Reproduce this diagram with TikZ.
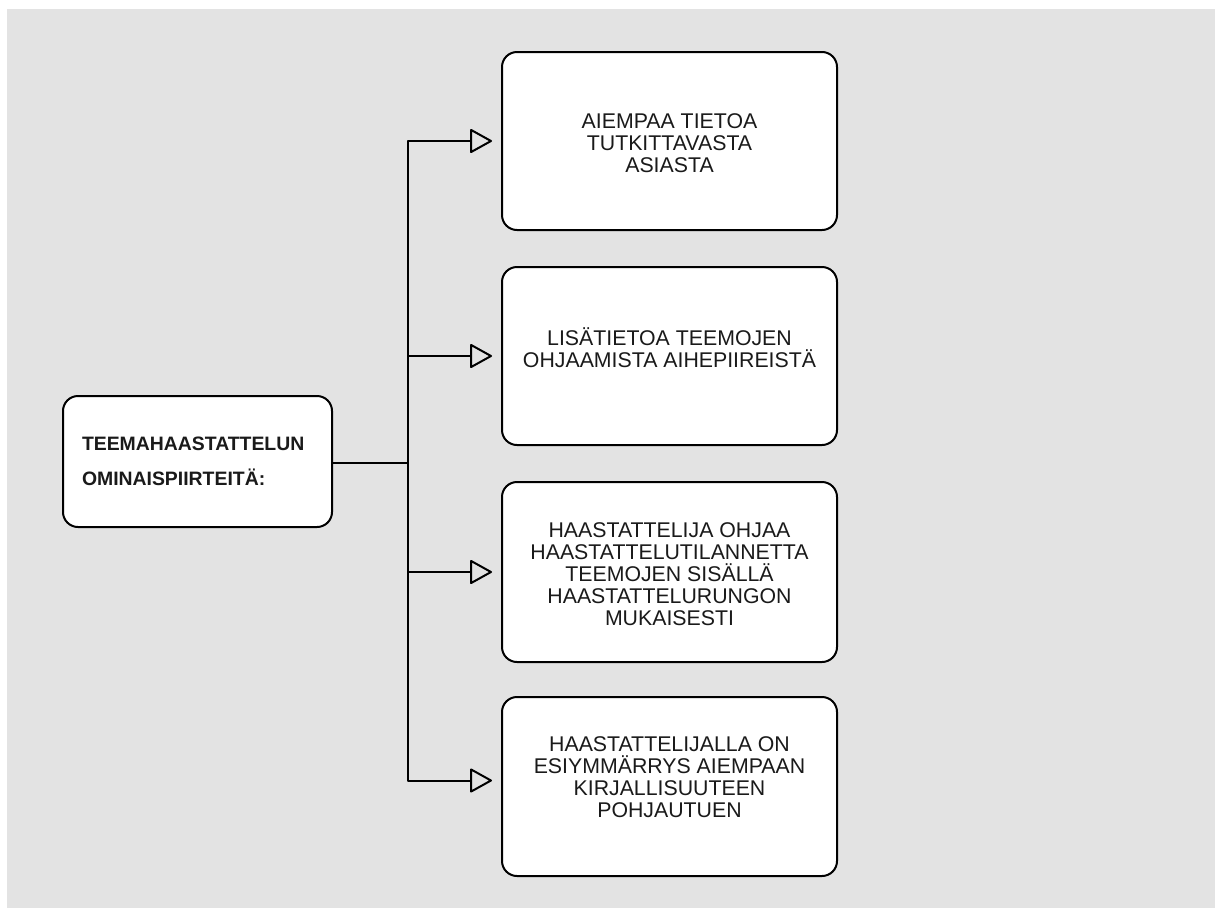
\documentclass[tikz,border=0pt]{standalone}
\usepackage{fontspec}
\setmainfont{Liberation Sans}
\usetikzlibrary{arrows.meta}
\definecolor{bggray}{HTML}{E3E3E3}
\definecolor{ink}{HTML}{1A1A1A}
\tikzset{
  card/.style={draw=black, line width=2pt, rounded corners=15pt, fill=white, inner sep=0pt},
  cardtext/.style={align=center, text=ink, font=\fontsize{21.3}{22}\selectfont, inner sep=0pt},
  conn/.style={draw=black, line width=2pt},
  branch/.style={conn, line join=round, -{Triangle[open, length=23pt, width=25pt, round]}, shorten >=9pt},
}
\begin{document}
\begin{tikzpicture}[x=1pt, y=-1pt]
  \useasboundingbox (0,0) rectangle (1215,908);
  \fill[white] (0,0) rectangle (1215,908);
  \fill[bggray] (7,9) rectangle (1215,908);

  % left box
  \node[card, minimum width=269pt, minimum height=131pt, text width=231pt, align=left,
        inner xsep=0pt, text=ink, font=\bfseries\fontsize{19.4}{35}\selectfont] (root) at (197.5,461.5)
        {TEEMAHAASTATTELUN\\OMINAISPIIRTEITÄ:};

  % right boxes
  \node[card, minimum width=335pt, minimum height=178pt] (b1) at (669.5,141) {};
  \node[card, minimum width=335pt, minimum height=178pt] (b2) at (669.5,356) {};
  \node[card, minimum width=335pt, minimum height=180pt] (b3) at (669.5,572) {};
  \node[card, minimum width=335pt, minimum height=179pt] (b4) at (669.5,786.5) {};

  \node[cardtext] (t1) at (669.5,143) {AIEMPAA TIETOA\\TUTKITTAVASTA\\ASIASTA};
  \node[cardtext] (t2) at (669.5,348) {LISÄTIETOA TEEMOJEN\\OHJAAMISTA AIHEPIIREISTÄ};
  \node[cardtext] (t3) at (669.5,574) {HAASTATTELIJA OHJAA\\HAASTATTELUTILANNETTA\\TEEMOJEN SISÄLLÄ\\HAASTATTELURUNGON\\MUKAISESTI};
  \node[cardtext] (t4) at (669.5,777) {HAASTATTELIJALLA ON\\ESIYMMÄRRYS AIEMPAAN\\KIRJALLISUUTEEN\\POHJAUTUEN};

  % connectors
  \coordinate (sp) at (408,463);
  \draw[conn] (root.east |- sp) -- (sp);
  \draw[branch] (sp) |- (b1.west);
  \draw[branch] (sp) |- (b2.west);
  \draw[branch] (sp) |- (b3.west);
  \draw[branch] (sp) |- ([yshift=6pt]b4.west);
\end{tikzpicture}
\end{document}
